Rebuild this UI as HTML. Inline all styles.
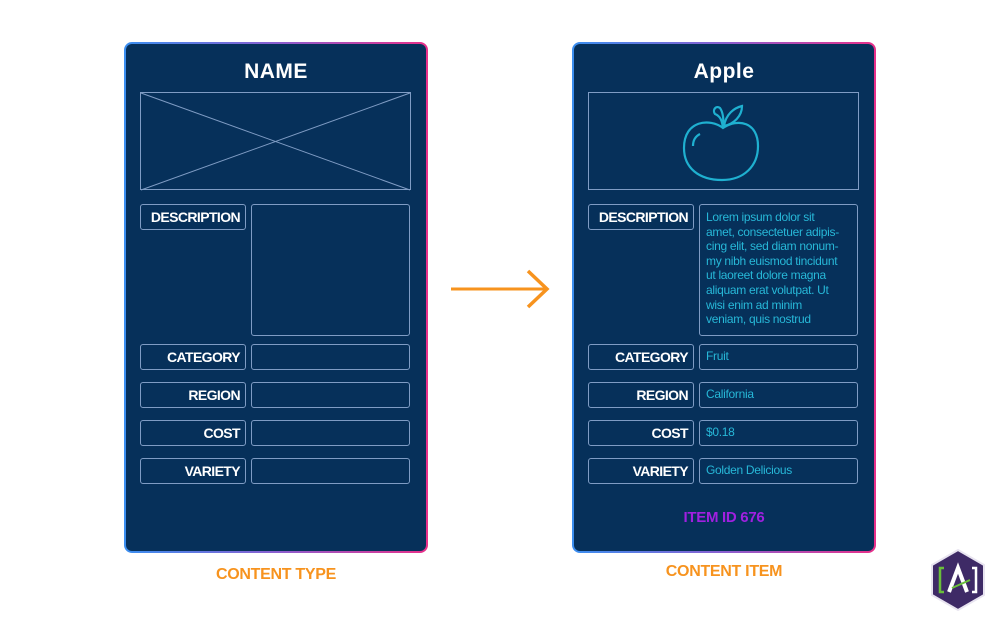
<!DOCTYPE html>
<html><head><style>
body{margin:0;width:1001px;height:623px;background:#fff;position:relative;overflow:hidden;font-family:"Liberation Sans",sans-serif}
.card{position:absolute;top:42px;width:304px;height:511px;border-radius:8px;background:linear-gradient(90deg,#3b8ff0,#8a5fd0 50%,#e8308a);}
.inner{position:absolute;left:2px;top:2px;right:2px;bottom:2px;border-radius:6px;background:#06305a}
.b{position:absolute;border:1px solid #7f9cc4;border-radius:3px;box-sizing:border-box}
.lab{color:#fff;font-weight:bold;font-size:14px;text-align:right;padding-right:5px;line-height:24px;letter-spacing:-0.6px;white-space:nowrap}
.val{color:#27b8d8;font-size:12px;padding-left:6px;line-height:22px;letter-spacing:-0.3px;white-space:nowrap}
.title{position:absolute;top:16px;left:0;right:0;text-align:center;color:#fff;font-weight:bold;font-size:21px;letter-spacing:0.5px}
.cap{position:absolute;color:#f7931e;font-weight:bold;font-size:16px;text-align:center;width:304px;letter-spacing:-0.3px}
</style></head><body>
<div class="card" style="left:124px"><div class="inner">
<div class="title">NAME</div>
<svg style="position:absolute;left:14px;top:48px" width="272" height="100"><rect x="0.5" y="0.5" width="270" height="97" fill="none" stroke="#7f9cc4"/><line x1="1" y1="1" x2="270" y2="98" stroke="#7f9cc4"/><line x1="270" y1="1" x2="1" y2="98" stroke="#7f9cc4"/></svg>
<div class="b lab" style="left:14px;top:160px;width:106px;height:26px">DESCRIPTION</div>
<div class="b" style="left:125px;top:160px;width:159px;height:132px"></div>
<div class="b lab" style="left:14px;top:300px;width:106px;height:26px">CATEGORY</div><div class="b" style="left:125px;top:300px;width:159px;height:26px"></div>
<div class="b lab" style="left:14px;top:338px;width:106px;height:26px">REGION</div><div class="b" style="left:125px;top:338px;width:159px;height:26px"></div>
<div class="b lab" style="left:14px;top:376px;width:106px;height:26px">COST</div><div class="b" style="left:125px;top:376px;width:159px;height:26px"></div>
<div class="b lab" style="left:14px;top:414px;width:106px;height:26px">VARIETY</div><div class="b" style="left:125px;top:414px;width:159px;height:26px"></div>
</div></div>
<div class="cap" style="left:124px;top:566px">CONTENT TYPE</div>

<svg style="position:absolute;left:448px;top:266px" width="106" height="46"><line x1="3" y1="23" x2="98" y2="23" stroke="#f7931e" stroke-width="3"/><polyline points="80,5 99,23 80,41" fill="none" stroke="#f7931e" stroke-width="3.5"/></svg>

<div class="card" style="left:572px"><div class="inner">
<div class="title">Apple</div>
<div class="b" style="left:14px;top:48px;width:271px;height:98px;border-radius:0"></div>
<svg style="position:absolute;left:100px;top:56px" width="100" height="90" fill="none" stroke="#1fb0d0" stroke-width="2.2"><path d="M49 28 C36 18 10 20 10 48 C10 68 25 80 48 80 C70 80 84 66 84 46 C84 22 64 18 49 28Z"/><path d="M19 46 C19 40 22 36 26 34"/><path d="M49 28 C48 20 46 16 41 14 C38 10 42 5 46 8 C49 12 50 20 49 28"/><path d="M50 26 C52 14 60 8 68 6 C68 16 60 24 50 26Z"/></svg>
<div class="b lab" style="left:14px;top:160px;width:106px;height:26px">DESCRIPTION</div>
<div class="b val" style="left:125px;top:160px;width:159px;height:132px;line-height:14.6px;padding-top:5px">Lorem ipsum dolor sit<br>amet, consectetuer adipis-<br>cing elit, sed diam nonum-<br>my nibh euismod tincidunt<br>ut laoreet dolore magna<br>aliquam erat volutpat. Ut<br>wisi enim ad minim<br>veniam, quis nostrud</div>
<div class="b lab" style="left:14px;top:300px;width:106px;height:26px">CATEGORY</div><div class="b val" style="left:125px;top:300px;width:159px;height:26px">Fruit</div>
<div class="b lab" style="left:14px;top:338px;width:106px;height:26px">REGION</div><div class="b val" style="left:125px;top:338px;width:159px;height:26px">California</div>
<div class="b lab" style="left:14px;top:376px;width:106px;height:26px">COST</div><div class="b val" style="left:125px;top:376px;width:159px;height:26px">$0.18</div>
<div class="b lab" style="left:14px;top:414px;width:106px;height:26px">VARIETY</div><div class="b val" style="left:125px;top:414px;width:159px;height:26px">Golden Delicious</div>
<div style="position:absolute;top:465px;left:0;right:0;text-align:center;color:#a020e0;font-weight:bold;font-size:15px;letter-spacing:-0.3px">ITEM ID 676</div>
</div></div>
<div class="cap" style="left:572px;top:563px">CONTENT ITEM</div>

<svg style="position:absolute;left:928px;top:548px" width="60" height="64"><polygon points="30,2 56,17 56,47 30,62 4,47 4,17" fill="#3e2a66" stroke="#e8e4f0" stroke-width="2"/><path d="M16 20 H12 V44 H16" stroke="#6abf3a" stroke-width="2.5" fill="none"/><path d="M44 20 H48 V44 H44" stroke="#fff" stroke-width="2.5" fill="none"/><path d="M21 44 L30 20 L39 44" stroke="#fff" stroke-width="4" fill="none"/><path d="M24 40 L42 32" stroke="#6abf3a" stroke-width="2"/></svg>
</body></html>
